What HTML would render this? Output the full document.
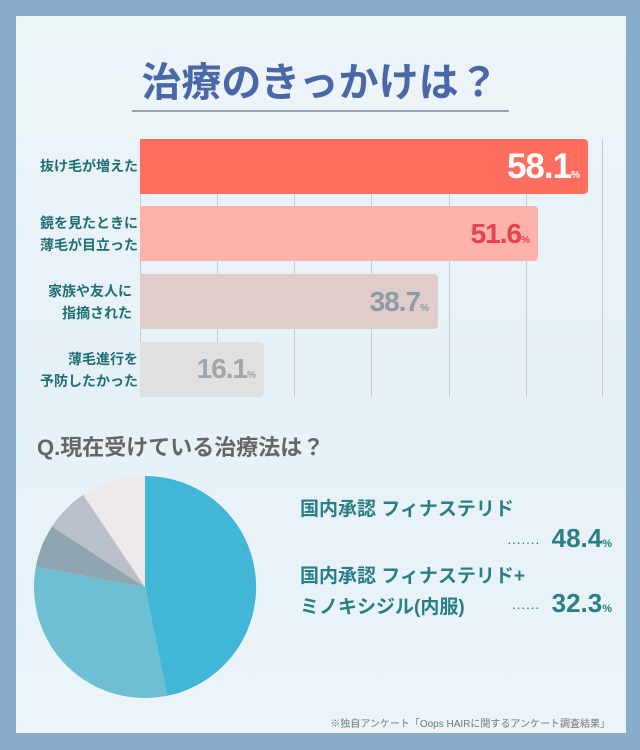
<!DOCTYPE html>
<html><head><meta charset="utf-8"><style>
body{margin:0;width:640px;height:750px;background:#8aaccb;font-family:"Liberation Sans","Noto Sans CJK JP",sans-serif;overflow:hidden}
.panel{position:absolute;left:16px;top:16px;width:610px;height:717px;background:linear-gradient(180deg,#eef5f9,#e6f1f7 50%,#eaf4f9)}
.t{position:absolute;white-space:nowrap}
.lbl{position:absolute;right:502px;text-align:right;color:#1f6f76;font-weight:bold;font-size:14px;line-height:22px}
.bar{position:absolute;left:140px;border-radius:0 4px 4px 0}
.grid{position:absolute;top:139px;width:1px;height:258px;background:#c4ccd3}
.val{position:absolute;font-weight:bold;text-align:right;letter-spacing:-1px}
.val small{font-size:10px;letter-spacing:0}
</style></head><body>
<div class="panel"></div>
<div class="t" style="left:0;width:640px;text-align:center;top:50px;font-size:40px;font-weight:bold;color:#4a67a8">治療のきっかけは？</div>
<div style="position:absolute;left:132px;top:110px;width:377px;height:2px;background:#9aa5b2"></div>
<div class="grid" style="left:140px"></div><div class="grid" style="left:217px"></div><div class="grid" style="left:294px"></div><div class="grid" style="left:371px"></div><div class="grid" style="left:449px"></div><div class="grid" style="left:526px"></div><div class="grid" style="left:602px"></div>
<div class="bar" style="top:139px;height:55px;width:448px;background:#fd6e5f"></div>
<div class="bar" style="top:206px;height:55px;width:398px;background:#fcb1aa"></div>
<div class="bar" style="top:274px;height:55px;width:298px;background:#e0cccb"></div>
<div class="bar" style="top:342px;height:55px;width:124px;background:#e0e0e0"></div>
<div class="lbl" style="top:155px">抜け毛が増えた</div>
<div class="lbl" style="top:212px">鏡を見たときに<br>薄毛が目立った</div>
<div class="lbl" style="top:280px;right:508px">家族や友人に<br>指摘された</div>
<div class="lbl" style="top:348px">薄毛進行を<br>予防したかった</div>
<div class="val" style="right:60px;top:147px;font-size:35px;color:#fff">58.1<small>%</small></div>
<div class="val" style="right:110px;top:218px;font-size:28px;color:#e8414f">51.6<small>%</small></div>
<div class="val" style="right:211px;top:286px;font-size:28px;color:#8e9aa6">38.7<small>%</small></div>
<div class="val" style="right:384px;top:353px;font-size:28px;color:#9ea6ae">16.1<small>%</small></div>
<div class="t" style="left:37px;top:430px;font-size:22px;color:#666;font-weight:bold">Q.現在受けている治療法は？</div>
<svg style="position:absolute;left:0;top:0" width="640" height="750">
<g transform="translate(145,587)">
<path d="M0 0 L0 -111 A111 111 0 0 1 22.1 108.8Z" fill="#41b6d6"/>
<path d="M0 0 L22.1 108.8 A111 111 0 0 1 -109.2 -20Z" fill="#6fbfd4"/>
<path d="M0 0 L-109.2 -20 A111 111 0 0 1 -93 -60.5Z" fill="#8fa5b0"/>
<path d="M0 0 L-93 -60.5 A111 111 0 0 1 -61.8 -92.2Z" fill="#b9bfcb"/>
<path d="M0 0 L-61.8 -92.2 A111 111 0 0 1 0 -111Z" fill="#eeeaea"/>
</g></svg>
<div class="t" style="left:300px;top:494px;font-size:19px;font-weight:bold;color:#2a7f86">国内承認 フィナステリド</div>
<div class="t" style="right:28px;top:523px;font-size:26px;font-weight:bold;color:#2a7f86"><span style="font-size:14px;font-weight:normal;margin-right:12px">·······</span>48.4<small style="font-size:11px">%</small></div>
<div class="t" style="left:300px;top:561px;font-size:19px;font-weight:bold;color:#2a7f86;line-height:31px">国内承認 フィナステリド+<br>ミノキシジル(内服)</div>
<div class="t" style="right:28px;top:588px;font-size:26px;font-weight:bold;color:#2a7f86"><span style="font-size:14px;font-weight:normal;margin-right:12px">······</span>32.3<small style="font-size:11px">%</small></div>
<div class="t" style="right:30px;top:715px;font-size:10px;color:#777">※独自アンケート「Oops HAIRに関するアンケート調査結果」</div>
</body></html>
